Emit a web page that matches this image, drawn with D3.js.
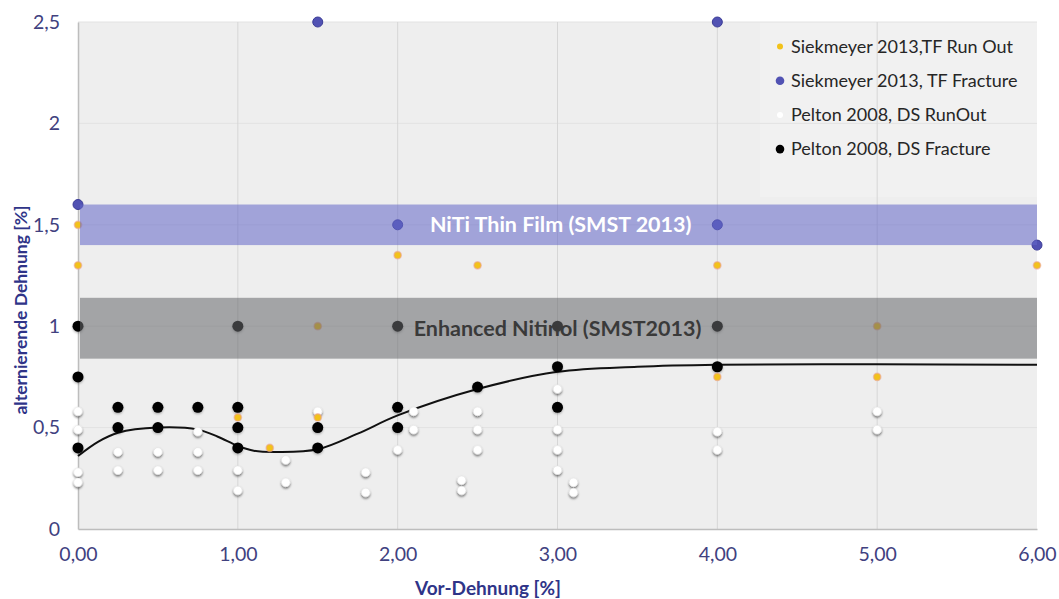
<!DOCTYPE html>
<html>
<head>
<meta charset="utf-8">
<script src="https://cdn.jsdelivr.net/npm/d3@7"></script>
<style>
  html, body { margin: 0; padding: 0; background: #ffffff; }
  svg { display: block; font-family: Lato, "Open Sans", sans-serif; }
</style>
</head>
<body>
<svg id="chart" width="1059" height="599"></svg>
<script>
// Siekmeyer 2013, thin film – run out
const tfRunOutX = [0, 0, 1.0, 1.2, 1.5, 1.5, 2.0, 2.5, 4.0, 4.0, 5.0, 5.0, 6.0];
const tfRunOutY = [1.5, 1.3, 0.55, 0.4, 1.0, 0.55, 1.35, 1.3, 1.3, 0.75, 1.0, 0.75, 1.3];

// Siekmeyer 2013, thin film – fracture
const tfFractureX = [0, 1.5, 2.0, 4.0, 4.0, 6.0];
const tfFractureY = [1.6, 2.5, 1.5, 2.5, 1.5, 1.4];

// Pelton 2008, drawn stock – run out
const dsRunOutX = [0, 0, 0, 0, 0.25, 0.25, 0.5, 0.5, 0.75, 0.75, 0.75, 1.0, 1.0, 1.3, 1.3, 1.5,
                   1.8, 1.8, 2.0, 2.1, 2.1, 2.4, 2.4, 2.5, 2.5, 2.5, 3.0, 3.0, 3.0, 3.0, 3.1, 3.1,
                   4.0, 4.0, 5.0, 5.0];
const dsRunOutY = [0.58, 0.49, 0.28, 0.23, 0.38, 0.29, 0.38, 0.29, 0.48, 0.38, 0.29, 0.29, 0.19, 0.34, 0.23, 0.58,
                   0.28, 0.18, 0.39, 0.58, 0.49, 0.24, 0.19, 0.58, 0.49, 0.39, 0.69, 0.49, 0.39, 0.29, 0.23, 0.18,
                   0.48, 0.39, 0.58, 0.49];

// Pelton 2008, drawn stock – fracture
const dsFractureX = [0, 0, 0, 0.25, 0.25, 0.5, 0.5, 0.75, 1.0, 1.0, 1.0, 1.0, 1.5, 1.5,
                     2.0, 2.0, 2.0, 2.5, 3.0, 3.0, 3.0, 4.0, 4.0];
const dsFractureY = [1.0, 0.75, 0.4, 0.6, 0.5, 0.6, 0.5, 0.6, 1.0, 0.6, 0.5, 0.4, 0.5, 0.4,
                     1.0, 0.6, 0.5, 0.7, 1.0, 0.8, 0.6, 1.0, 0.8];

// Trend curve through the drawn-stock fracture limit
const trendX = [0, 0.125, 0.25, 0.5, 0.75, 0.875, 1.0, 1.1, 1.25, 1.5, 1.75, 2.0, 2.5, 3.0, 3.5, 4.0, 5.0, 6.0];
const trendY = [0.36, 0.43, 0.475, 0.5, 0.49, 0.455, 0.41, 0.386, 0.38, 0.393, 0.47, 0.56, 0.69, 0.775, 0.80, 0.81, 0.812, 0.81];

// SMST 2013 reference ranges
const bandNames = ["NiTi Thin Film (SMST 2013)", "Enhanced Nitinol (SMST2013)"];
const bandLow = [1.4, 0.84];
const bandHigh = [1.6, 1.14];

// Axis ticks
const xTicks = [0, 1, 2, 3, 4, 5, 6];
const yTicks = [0, 0.5, 1, 1.5, 2, 2.5];

const legendNames = ["Siekmeyer 2013,TF Run Out", "Siekmeyer 2013, TF Fracture",
                     "Pelton 2008, DS RunOut", "Pelton 2008, DS Fracture"];

const svg = d3.select("#chart");
const x = d3.scaleLinear().domain([0, 6]).range([78, 1037]);
const y = d3.scaleLinear().domain([0, 2.5]).range([529, 22]);

const de = d3.formatLocale({ decimal: ",", thousands: ".", grouping: [3], currency: ["", " €"] });
const fmtX = de.format(".2f");
const fmtY = d => de.format("~g")(d);

const defs = svg.append("defs");
const sh = defs.append("filter").attr("id", "shadow").attr("x", "-60%").attr("y", "-60%").attr("width", "220%").attr("height", "220%");
sh.append("feDropShadow").attr("dx", 0).attr("dy", 1.6).attr("stdDeviation", 1.1)
  .attr("flood-color", "#000").attr("flood-opacity", 0.55);
const sh2 = defs.append("filter").attr("id", "softshadow").attr("x", "-60%").attr("y", "-60%").attr("width", "220%").attr("height", "220%");
sh2.append("feDropShadow").attr("dx", 0).attr("dy", 1.2).attr("stdDeviation", 1.2)
  .attr("flood-color", "#000").attr("flood-opacity", 0.3);

// plot background
svg.append("rect")
  .attr("x", x(0)).attr("y", y(2.5))
  .attr("width", x(6) - x(0)).attr("height", y(0) - y(2.5))
  .attr("fill", "#eeeeee");

// legend panel (barely lighter than the plot)
svg.append("rect")
  .attr("x", 760).attr("y", y(2.5))
  .attr("width", x(6) - 760).attr("height", 175)
  .attr("fill", "#f1f1f1");

// gridlines
svg.append("g").selectAll("line.gy").data(yTicks.filter(d => d > 0)).join("line")
  .attr("x1", x(0)).attr("x2", x(6))
  .attr("y1", d => y(d)).attr("y2", d => y(d))
  .attr("stroke", "#e2e2e2").attr("stroke-width", 1);
svg.append("g").selectAll("line.gx").data(xTicks.filter(d => d > 0 && d < 6)).join("line")
  .attr("x1", d => x(d)).attr("x2", d => x(d))
  .attr("y1", y(0)).attr("y2", y(2.5))
  .attr("stroke", "#d6d6d6").attr("stroke-width", 1);

// axes
const yAxis = svg.append("g").attr("transform", `translate(${x(0)},0)`)
  .call(d3.axisLeft(y).tickValues(yTicks).tickFormat(fmtY).tickSize(0).tickPadding(18));
const xAxis = svg.append("g").attr("transform", `translate(0,${y(0)})`)
  .call(d3.axisBottom(x).tickValues(xTicks).tickFormat(fmtX).tickSize(0).tickPadding(18));
[yAxis, xAxis].forEach(a => {
  a.select(".domain").attr("stroke", "#bdbdbd").attr("stroke-width", 1.5);
  a.selectAll("text").attr("fill", "#41417f").attr("font-size", 19.5)
    .attr("font-family", "Lato, sans-serif");
});

// trend curve
const line = d3.line().x(d => x(d[0])).y(d => y(d[1])).curve(d3.curveCatmullRom.alpha(0.5));
svg.append("path")
  .datum(d3.zip(trendX, trendY))
  .attr("d", line)
  .attr("fill", "none").attr("stroke", "#111").attr("stroke-width", 2);

// points
const pts = svg.append("g");
pts.selectAll("circle.dsro").data(d3.zip(dsRunOutX, dsRunOutY)).join("circle")
  .attr("cx", d => x(d[0])).attr("cy", d => y(d[1])).attr("r", 4.3)
  .attr("fill", "#ffffff").attr("stroke", "#e4e4e4").attr("stroke-width", 0.6)
  .attr("filter", "url(#shadow)");
pts.selectAll("circle.dsfr").data(d3.zip(dsFractureX, dsFractureY)).join("circle")
  .attr("cx", d => x(d[0])).attr("cy", d => y(d[1])).attr("r", 5.5)
  .attr("fill", "#000000").attr("filter", "url(#softshadow)");
pts.selectAll("circle.tfro").data(d3.zip(tfRunOutX, tfRunOutY)).join("circle")
  .attr("cx", d => x(d[0])).attr("cy", d => y(d[1])).attr("r", 3.6)
  .attr("fill", "#f2c21a").attr("stroke", "rgba(235,160,150,0.55)").attr("stroke-width", 1.6);
pts.selectAll("circle.tffr").data(d3.zip(tfFractureX, tfFractureY)).join("circle")
  .attr("cx", d => x(d[0])).attr("cy", d => y(d[1])).attr("r", 5)
  .attr("fill", "#5152b3").attr("stroke", "#3b3c96").attr("stroke-width", 1);

// reference bands laid over the data
const bandFill = ["rgba(100,104,200,0.56)", "rgba(104,106,108,0.56)"];
const bandText = ["#ffffff", "#3a3a3a"];
const bandCx = [3.02, 3.0];
const bands = svg.append("g");
bandNames.forEach((name, i) => {
  bands.append("rect")
    .attr("x", x(0) + 2).attr("y", y(bandHigh[i]))
    .attr("width", x(6) - x(0) - 2).attr("height", y(bandLow[i]) - y(bandHigh[i]))
    .attr("fill", bandFill[i]);
  bands.append("text")
    .attr("x", x(bandCx[i])).attr("y", y((bandLow[i] + bandHigh[i]) / 2))
    .attr("dy", "0.35em").attr("text-anchor", "middle")
    .attr("font-size", 21.5).attr("font-weight", 700)
    .attr("fill", bandText[i])
    .text(name);
});

// legend
const legColors = ["#f2c21a", "#5152b3", "#ffffff", "#000000"];
const legR = [3, 4.3, 3, 4.3];
const leg = svg.append("g");
legendNames.forEach((name, i) => {
  const cy = 46.5 + i * 34.2;
  leg.append("circle").attr("cx", 780).attr("cy", cy).attr("r", legR[i])
    .attr("fill", legColors[i]);
  leg.append("text").attr("x", 791).attr("y", cy).attr("dy", "0.35em")
    .attr("font-size", 18).attr("fill", "#262626").text(name);
});

// axis titles
svg.append("text")
  .attr("x", 488).attr("y", 588).attr("dy", "0.35em")
  .attr("text-anchor", "middle").attr("font-size", 19).attr("font-weight", 700)
  .attr("fill", "#2f3488").text("Vor-Dehnung [%]");
svg.append("text")
  .attr("transform", "translate(21,310) rotate(-90)")
  .attr("dy", "0.35em")
  .attr("text-anchor", "middle").attr("font-size", 17.5).attr("font-weight", 700)
  .attr("fill", "#2f3488").text("alternierende Dehnung [%]");
</script>
</body>
</html>
